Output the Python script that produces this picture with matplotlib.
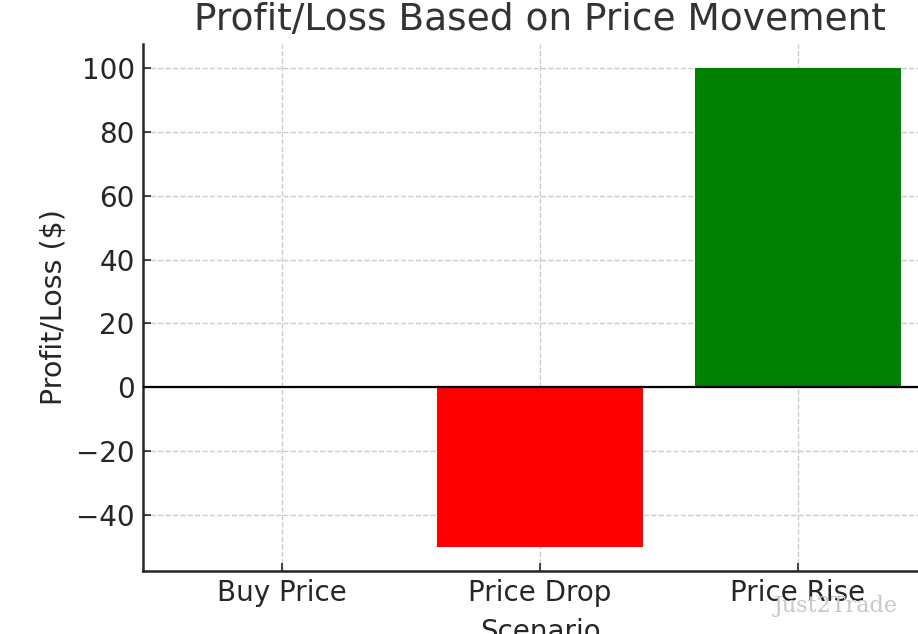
import matplotlib
matplotlib.use("Agg")
import matplotlib.pyplot as plt

scenarios = ["Buy Price", "Price Drop", "Price Rise"]
profit_loss = [0, -50, 100]
bar_colors = ["blue", "red", "green"]

fig = plt.figure(figsize=(9.18, 6.34), dpi=100)
ax = fig.add_axes([143/918, 1-571/634, (937-143)/918, (571-44)/634])

ax.bar(scenarios, profit_loss, color=bar_colors, width=0.8, zorder=2)
ax.axhline(0, color="black", linewidth=1.6, zorder=3)

ax.grid(True, linestyle="--", color="#cccccc", linewidth=1, zorder=0)
ax.set_axisbelow(True)

for side in ["top", "right"]:
    ax.spines[side].set_visible(False)
for side in ["left", "bottom"]:
    ax.spines[side].set_linewidth(1.8)
    ax.spines[side].set_color("#262626")

ax.tick_params(direction="in", length=6, width=1.2, labelsize=20,
               colors="#262626", pad=6)
ax.set_yticks([-40, -20, 0, 20, 40, 60, 80, 100])

ax.set_title("Profit/Loss Based on Price Movement", fontsize=27,
             color="#333333", pad=10)
ax.set_ylabel("Profit/Loss ($)", fontsize=20.5, color="#262626", labelpad=6)
ax.set_xlabel("Scenario", fontsize=20, color="#262626", labelpad=8)

fig.text(898/918, 1-606/634, "Just2Trade", family="DejaVu Serif",
         fontsize=16, color="#c8c8c8", ha="right", va="center")

fig.savefig("out.png", dpi=100)
